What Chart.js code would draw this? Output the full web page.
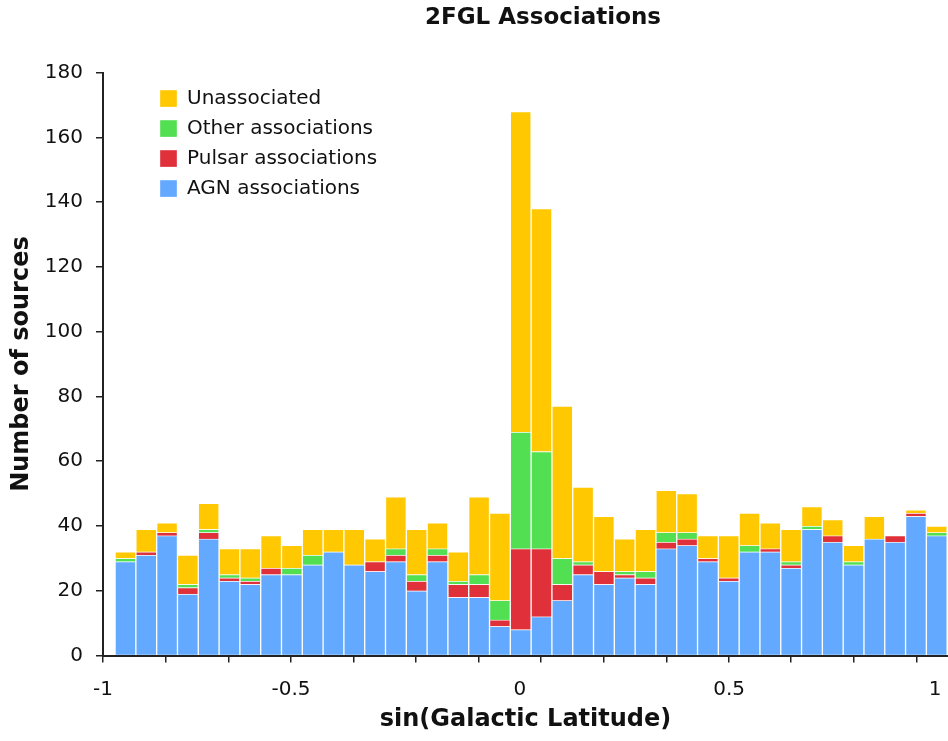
<!DOCTYPE html>
<html lang="en">
<head>
  <meta charset="UTF-8" />
  <title>2FGL Associations</title>
  <script src="https://cdn.jsdelivr.net/npm/chart.js"></script>
  <style>
    html, body { margin: 0; padding: 0; background: #fff; }
  </style>
</head>
<body>
  <canvas id="chartAssoc" width="948" height="741"></canvas>

  <script>
    // lower edge of each sin(b) bin
    const binStarts = [-1.00, -0.95, -0.90, -0.85, -0.80, -0.75, -0.70, -0.65, -0.60, -0.55,
                       -0.50, -0.45, -0.40, -0.35, -0.30, -0.25, -0.20, -0.15, -0.10, -0.05,
                        0.00,  0.05,  0.10,  0.15,  0.20,  0.25,  0.30,  0.35,  0.40,  0.45,
                        0.50,  0.55,  0.60,  0.65,  0.70,  0.75,  0.80,  0.85,  0.90,  0.95];

    const agn     = [29, 31, 37, 19, 36, 23, 22, 25, 25, 28, 32, 28, 26, 29, 20, 29, 18, 18,  9,  8,
                     12, 17, 25, 22, 24, 22, 33, 34, 29, 23, 32, 32, 27, 39, 35, 28, 36, 35, 43, 37];
    const pulsar  = [ 0,  1,  1,  2,  2,  1,  1,  2,  0,  0,  0,  0,  3,  2,  3,  2,  4,  4,  2, 25,
                     21,  5,  3,  4,  1,  2,  2,  2,  1,  1,  0,  1,  1,  0,  2,  0,  0,  2,  1,  0];
    const other   = [ 1,  0,  0,  1,  1,  1,  1,  0,  2,  3,  0,  0,  0,  2,  2,  2,  1,  3,  6, 36,
                     30,  8,  1,  0,  1,  2,  3,  2,  0,  0,  2,  0,  1,  1,  0,  1,  0,  0,  0,  1];
    const unassoc = [ 2,  7,  3,  9,  8,  8,  9, 10,  7,  8,  7, 11,  7, 16, 14,  8,  9, 24, 27, 99,
                     75, 47, 23, 17, 10, 13, 13, 12,  7, 13, 10,  8, 10,  6,  5,  5,  7,  0,  1,  2];

    const yTicks = [0, 20, 40, 60, 80, 100, 120, 140, 160, 180];
    // tick marks and tick labels on the x axis do not line up in the original
    const xTickMarks = [-1, -0.849, -0.697, -0.548, -0.397, -0.248, -0.096,
                        0.053, 0.204, 0.356, 0.505, 0.654, 0.805, 0.957];
    const xLabelAt   = [-1, -0.548, 0.002, 0.505, 1.0];
    const xLabelText = ['-1', '-0.5', '0', '0.5', '1'];

    const X_MIN = -1, X_MAX = 1.031;
    const BIN_WIDTH = 0.05, BIN_SHIFT = 0.029;
    const FONT = 'DejaVu Sans, Verdana, sans-serif';
    const INK = '#111';

    function series(values) {
      return values.map((v, i) => ({ x: binStarts[i] + BIN_WIDTH / 2 + BIN_SHIFT, y: v }));
    }

    function barSet(label, values, color) {
      return {
        label: label,
        data: series(values),
        backgroundColor: color,
        borderColor: 'rgba(255,255,255,0.35)',
        borderWidth: 1,
        categoryPercentage: 1,
        barPercentage: 1
      };
    }

    // move legend inside the plot and centre the title like the original
    const placeBoxes = {
      id: 'placeBoxes',
      beforeDraw(chart) {
        const a = chart.chartArea;
        chart.legend.left = a.left + 47;
        chart.legend.top = a.top + 6;
        chart.titleBlock.left = 138;
      }
    };

    // plot runs right up to the canvas edge, no room kept for the last label
    function noSidePadding(s) {
      s.paddingLeft = 0;
      s.paddingRight = 0;
    }

    new Chart(document.getElementById('chartAssoc'), {
      type: 'bar',
      data: {
        datasets: [
          barSet('AGN associations', agn, '#62a9ff'),
          barSet('Pulsar associations', pulsar, '#e0303a'),
          barSet('Other associations', other, '#52e052'),
          barSet('Unassociated', unassoc, '#ffc800')
        ]
      },
      options: {
        responsive: false,
        animation: false,
        layout: { padding: { left: 7, right: 0, top: 3, bottom: 3 } },
        plugins: {
          title: {
            display: true,
            text: '2FGL Associations',
            color: INK,
            font: { family: FONT, size: 23, weight: 'bold' },
            padding: { top: 1, bottom: 41 }
          },
          legend: {
            position: 'chartArea',
            align: 'start',
            reverse: true,
            labels: {
              boxWidth: 17,
              boxHeight: 17,
              padding: 10,
              color: INK,
              font: { family: FONT, size: 20 }
            }
          },
          tooltip: { enabled: false }
        },
        scales: {
          x: {
            type: 'linear',
            position: 'bottom',
            min: X_MIN,
            max: X_MAX,
            bounds: 'data',
            offset: false,
            stacked: true,
            afterBuildTicks: s => { s.ticks = xTickMarks.map(v => ({ value: v })); },
            ticks: { display: false },
            grid: { offset: false, drawOnChartArea: false, drawTicks: true, tickLength: 7, color: '#222', lineWidth: 1.5 },
            border: { display: true, color: '#222', width: 2 },
            afterFit: s => { s.height = 7; noSidePadding(s); }
          },
          xl: {
            type: 'linear',
            position: 'bottom',
            min: X_MIN,
            max: X_MAX,
            bounds: 'data',
            offset: false,
            afterBuildTicks: s => { s.ticks = xLabelAt.map(v => ({ value: v })); },
            ticks: {
              autoSkip: false,
              maxRotation: 0,
              padding: 15,
              color: INK,
              font: { family: FONT, size: 20 },
              callback: (v, i) => xLabelText[i]
            },
            grid: { offset: false, display: false, drawTicks: false },
            border: { display: false },
            title: {
              display: true,
              text: 'sin(Galactic Latitude)',
              color: INK,
              font: { family: FONT, size: 24, weight: 'bold' },
              padding: { top: 4, bottom: 4 }
            },
            afterFit: s => { s.height = 75.5; noSidePadding(s); }
          },
          y: {
            stacked: true,
            min: 0,
            max: 180,
            afterBuildTicks: s => { s.ticks = yTicks.map(v => ({ value: v })); },
            ticks: { padding: 13, color: INK, font: { family: FONT, size: 20 } },
            grid: { drawOnChartArea: false, tickLength: 7, color: '#222', lineWidth: 1.5 },
            border: { color: '#222', width: 2 },
            title: {
              display: true,
              text: 'Number of sources',
              color: INK,
              font: { family: FONT, size: 24, weight: 'bold' },
              padding: { top: 0, bottom: 0 }
            },
            afterFit: s => { s.width = 96; }
          }
        }
      },
      plugins: [placeBoxes]
    });
  </script>
</body>
</html>
